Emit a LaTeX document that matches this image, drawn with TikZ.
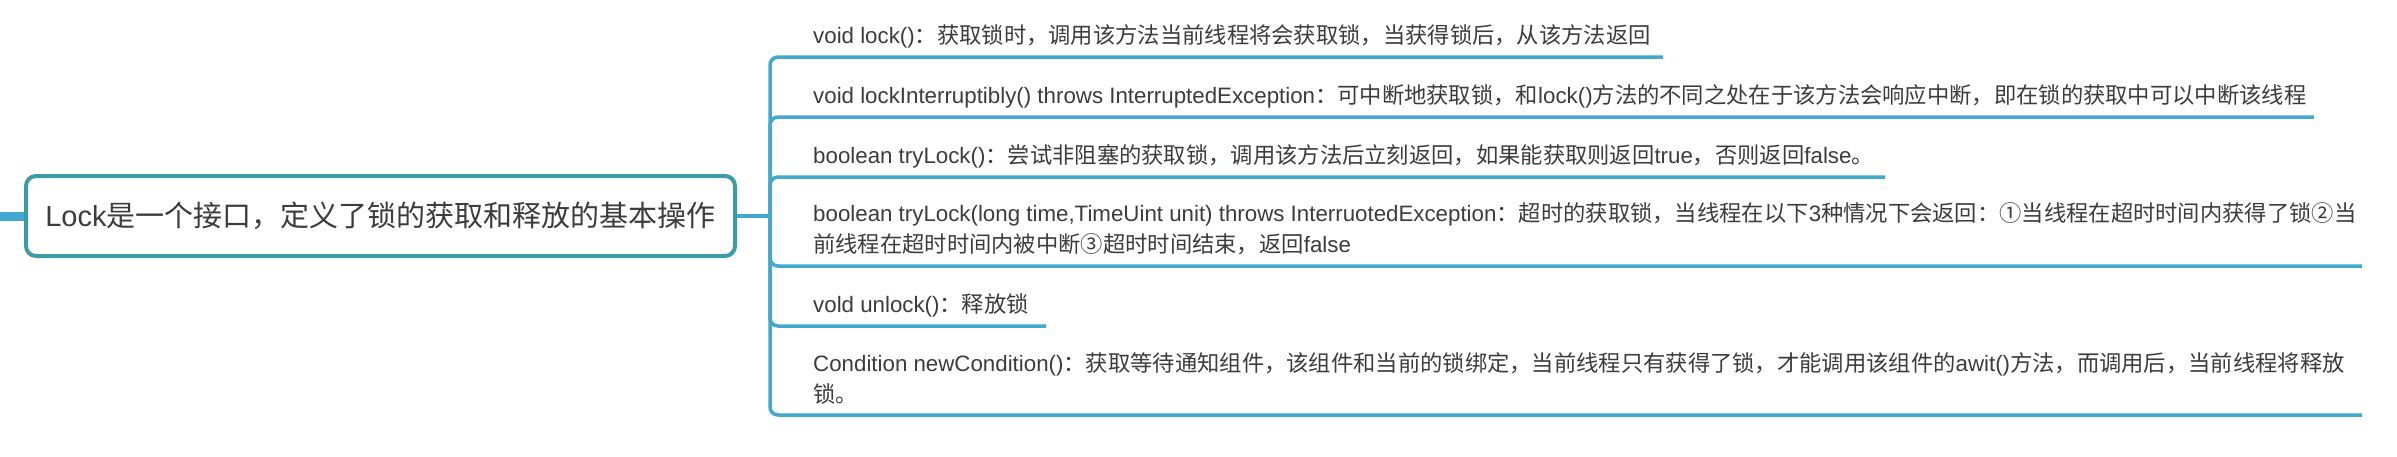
\documentclass[tikz,border=0pt]{standalone}
\usepackage{fontspec}
\setmainfont{Liberation Sans}
\newfontfamily\cjkfont{Noto Sans CJK SC}
\newcommand\zh[1]{{\cjkfont #1}}
\definecolor{boxc}{RGB}{59,156,168}
\definecolor{linec}{RGB}{65,169,207}
\definecolor{txt}{RGB}{60,60,60}
\begin{document}
\begin{tikzpicture}[x=1pt,y=-1pt,
  rootbox/.style={draw=boxc, line width=4pt, rounded corners=10pt, fill=white,
    minimum width=709pt, minimum height=80pt, inner sep=0pt,
    font=\fontsize{29pt}{34pt}\selectfont, text=txt},
  item/.style={anchor=base west, inner sep=0pt, align=left, text=txt,
    font=\fontsize{22.3pt}{31pt}\selectfont},
  branch/.style={draw=linec, line width=3.5pt, rounded corners=8pt},
  stub/.style={draw=linec, line width=9pt}]
\fill[white] (0,0) rectangle (2397,456);
\useasboundingbox (0,0) rectangle (2397,456);

\node[rootbox] (root) at (380.5,216) {Lock\zh{是一个接口，定义了锁的获取和释放的基本操作}};
\coordinate (L) at (0,216);
\draw[stub] (L) -- (root.west);

\coordinate (J) at (770,216);
\draw[branch] (root.east) -- (J);

\coordinate (u1) at (1663,57);
\coordinate (u2) at (2314,117);
\coordinate (u3) at (1885,177);
\coordinate (u4) at (2362,266);
\coordinate (u5) at (1046,326);
\coordinate (u6) at (2362,415);
\foreach \u in {u1,u2,u3,u4,u5,u6} \draw[branch] (J) |- (\u);

\node[item] (t1) at (813,43) {void lock()\zh{：获取锁时，调用该方法当前线程将会获取锁，当获得锁后，从该方法返回}};
\node[item] (t2) at (813,103) {void lockInterruptibly() throws InterruptedException\zh{：可中断地获取锁，和}lock()\zh{方法的不同之处在于该方法会响应中断，即在锁的获取中可以中断该线程}};
\node[item] (t3) at (813,163) {boolean tryLock()\zh{：尝试非阻塞的获取锁，调用该方法后立刻返回，如果能获取则返回}true\zh{，否则返回}false\zh{。}};
\node[item] (t4) at (813,252) {boolean tryLock(long time,TimeUint unit) throws InterruotedException\zh{：超时的获取锁，当线程在以下}3\zh{种情况下会返回：①当线程在超时时间内获得了锁②当}\\\zh{前线程在超时时间内被中断③超时时间结束，返回}false};
\node[item] (t5) at (813,312) {vold unlock()\zh{：释放锁}};
\node[item] (t6) at (813,402) {Condition newCondition()\zh{：获取等待通知组件，该组件和当前的锁绑定，当前线程只有获得了锁，才能调用该组件的}awit()\zh{方法，而调用后，当前线程将释放}\\\zh{锁。}};
\end{tikzpicture}
\end{document}
